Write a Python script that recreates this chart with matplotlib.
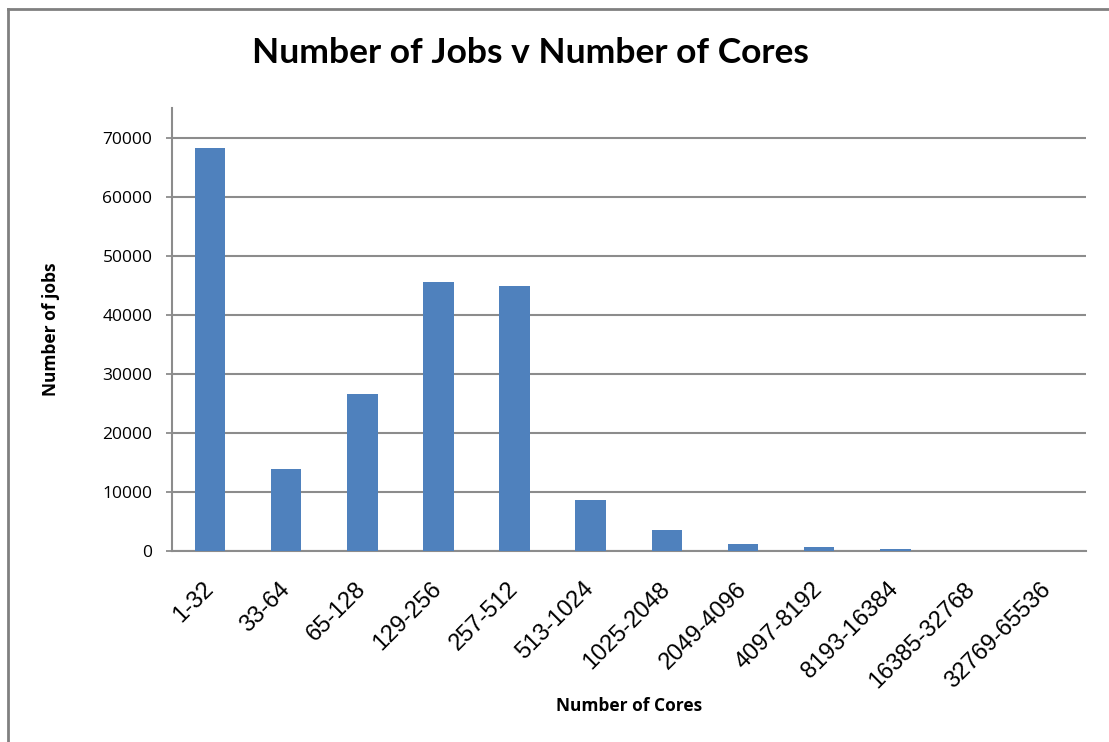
import numpy as np
import matplotlib
matplotlib.use("Agg")
import matplotlib.pyplot as plt
from matplotlib.lines import Line2D

# ---- data ----
core_ranges = ["1-32", "33-64", "65-128", "129-256", "257-512", "513-1024",
               "1025-2048", "2049-4096", "4097-8192", "8193-16384",
               "16385-32768", "32769-65536"]
num_jobs = [68300, 13900, 26600, 45500, 44800, 8650,
            3550, 1150, 650, 300, 60, 20]
y_ticks = [0, 10000, 20000, 30000, 40000, 50000, 60000, 70000]

BAR_COLOR = "#4F81BD"
GRID_COLOR = "#8c8c8c"

fig = plt.figure(figsize=(11.09, 7.42), dpi=100)
ax = fig.add_axes([0.155, 0.2574, 0.824, 0.597])

x = np.arange(len(core_ranges))
ax.bar(x, num_jobs, width=0.4, color=BAR_COLOR, zorder=3)

ax.set_xlim(-0.5, len(core_ranges) - 0.5)
ax.set_ylim(0, 75000)
ax.set_yticks(y_ticks)
ax.set_yticklabels([str(v) for v in y_ticks], fontfamily="Open Sans", fontsize=12.5)
ax.yaxis.grid(True, color=GRID_COLOR, lw=1.5, zorder=0)
ax.tick_params(axis="y", direction="out", length=4, width=1.3,
               color=GRID_COLOR, pad=10)

ax.set_xticks(x)
ax.set_xticklabels(core_ranges, rotation=45, ha="right", va="center",
                   rotation_mode="anchor", fontfamily="Liberation Sans",
                   fontsize=17)
ax.tick_params(axis="x", length=0, pad=25)

for side in ["top", "right"]:
    ax.spines[side].set_visible(False)
for side in ["left", "bottom"]:
    ax.spines[side].set_color(GRID_COLOR)
    ax.spines[side].set_linewidth(1.5)

ax.set_ylabel("Number of jobs", fontfamily="Open Sans", fontweight="bold",
              fontsize=12.5)
ax.yaxis.set_label_coords(-0.122, 0.5)
ax.set_xlabel("Number of Cores", fontfamily="Open Sans", fontweight="bold",
              fontsize=12.5)
ax.xaxis.set_label_coords(0.5, -0.33)

fig.text(0.478, 0.928, "Number of Jobs v Number of Cores", ha="center",
         va="center", fontfamily="Lato", fontweight="bold", fontsize=25.5)

# frame visible on left and top of the original export
fig.add_artist(Line2D([0.0075, 0.0075], [0, 0.988], color="#808080", lw=2,
                      transform=fig.transFigure))
fig.add_artist(Line2D([0.0075, 1.0], [0.988, 0.988], color="#808080", lw=2,
                      transform=fig.transFigure))

fig.savefig("out.png", dpi=100)
